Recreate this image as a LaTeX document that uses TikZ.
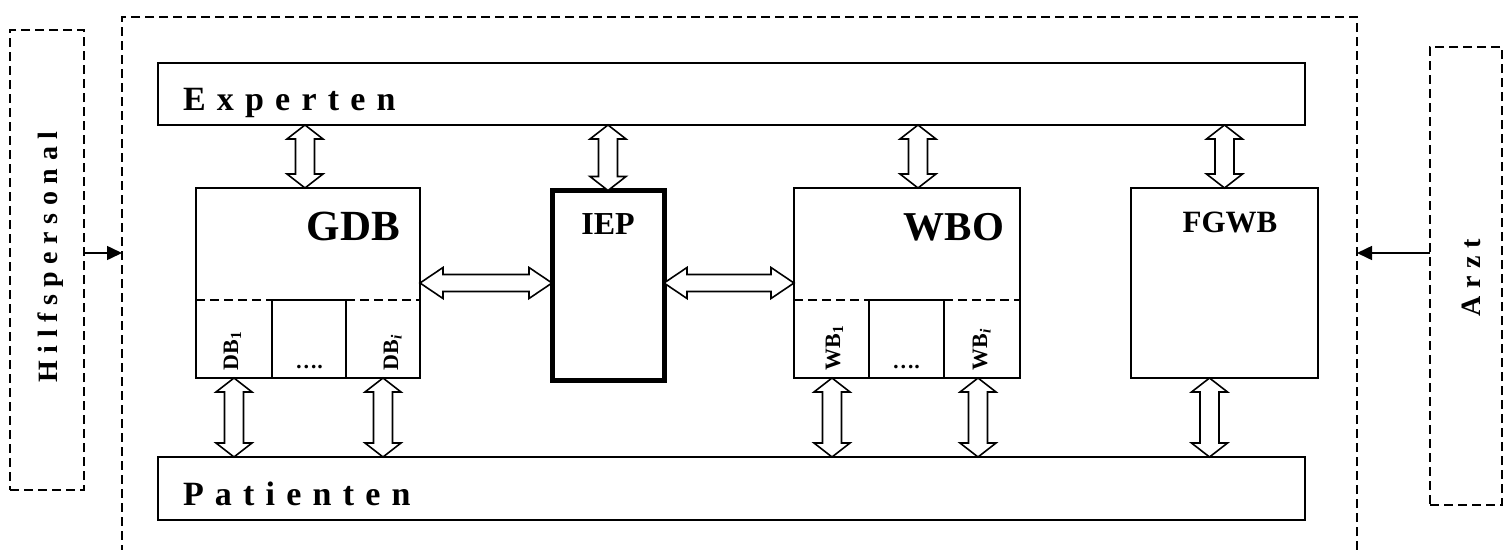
\documentclass[tikz,border=0pt]{standalone}
\usepackage{fontspec}
\setmainfont{Liberation Serif}
\newfontfamily\spacedA[LetterSpace=33]{Liberation Serif}
\newfontfamily\spacedB[LetterSpace=27]{Liberation Serif}
\usetikzlibrary{calc,arrows.meta}
\tikzset{
  box/.style={draw, line width=1.8pt, inner sep=0pt, outer sep=0pt, anchor=north west},
  dbox/.style={draw, line width=1.8pt, dash pattern=on 9pt off 5pt, inner sep=0pt, outer sep=0pt, anchor=north west},
  dline/.style={line width=1.8pt, dash pattern=on 9pt off 5pt},
  hollow/.style={draw, line width=1.6pt, fill=white, line join=miter},
  txt/.style={inner sep=0pt, outer sep=0pt},
  sarrow/.style={line width=1.6pt, -{Triangle[length=15pt,width=14pt]}},
}
% vertical hollow double arrow: [x shift]{x source}{top y source}{bottom y source}
\newcommand\vdarr[4][0pt]{%
  \path[hollow] let \p1=($#2+(#1,0)$), \p2=#3, \p3=#4 in
    (\x1,\y2) -- (\x1+18pt,\y2-14pt) -- (\x1+9.5pt,\y2-14pt) -- (\x1+9.5pt,\y3+14pt)
    -- (\x1+18pt,\y3+14pt) -- (\x1,\y3) -- (\x1-18pt,\y3+14pt) -- (\x1-9.5pt,\y3+14pt)
    -- (\x1-9.5pt,\y2-14pt) -- (\x1-18pt,\y2-14pt) -- cycle;}
% horizontal hollow double arrow: {left x source}{right x source}{y source}
\newcommand\hdarr[3]{%
  \path[hollow] let \p1=#1, \p2=#2, \p3=#3 in
    (\x1,\y3) -- (\x1+23pt,\y3+15.5pt) -- (\x1+23pt,\y3+8.5pt) -- (\x2-23pt,\y3+8.5pt)
    -- (\x2-23pt,\y3+15.5pt) -- (\x2,\y3) -- (\x2-23pt,\y3-15.5pt) -- (\x2-23pt,\y3-8.5pt)
    -- (\x1+23pt,\y3-8.5pt) -- (\x1+23pt,\y3-15.5pt) -- cycle;}
\begin{document}
\begin{tikzpicture}[x=1pt,y=-1pt]
\useasboundingbox (0,0) rectangle (1510,549);
\fill[white] (0,0) rectangle (1510,549);

% outer dashed boxes
\node[dbox, minimum width=1235, minimum height=600] (sys) at (122,17) {};
\node[dbox, minimum width=74, minimum height=460] (hp) at (10,30) {};
\node[dbox, minimum width=72, minimum height=458] (az) at (1430,47) {};

% main boxes
\node[box, minimum width=1147, minimum height=62] (exp) at (158,63) {};
\node[box, minimum width=1147, minimum height=63] (pat) at (158,457) {};
\node[box, minimum width=224, minimum height=190] (gdb) at (196,188) {};
\node[box, minimum width=226, minimum height=190] (wbo) at (794,188) {};
\node[box, minimum width=187, minimum height=190] (fgwb) at (1131,188) {};
\node[box, line width=5pt, minimum width=112, minimum height=190] (iep) at (552,190.5) {};

% inner cells
\draw[dline] (196,300) -- (272,300) (346,300) -- (420,300);
\node[box, minimum width=74, minimum height=78] (gdbc) at (272,300) {};
\draw[dline] (794,300) -- (869,300) (944,300) -- (1020,300);
\node[box, minimum width=75, minimum height=78] (wboc) at (869,300) {};
\coordinate (db1) at (234,378);
\coordinate (dbi) at (383,378);
\coordinate (wb1) at (832,378);
\coordinate (wbi) at (978,378);

% side arrows
\draw[sarrow] ([yshift=7pt]hp.east) -- ([yshift=7pt]hp.east -| sys.west);
\draw[sarrow] ([yshift=23pt]az.west) -- ([yshift=23pt]az.west -| sys.east);

% hollow double arrows, top
\vdarr[-3pt]{(gdb.north)}{(exp.south)}{(gdb.north)}
\vdarr{(iep.north)}{(exp.south)}{(iep.north)}
\vdarr[11pt]{(wbo.north)}{(exp.south)}{(wbo.north)}
\vdarr{(fgwb.north)}{(exp.south)}{(fgwb.north)}
% bottom
\vdarr{(db1)}{(db1)}{(pat.north)}
\vdarr{(dbi)}{(dbi)}{(pat.north)}
\vdarr{(wb1)}{(wb1)}{(pat.north)}
\vdarr{(wbi)}{(wbi)}{(pat.north)}
\vdarr[-15pt]{(fgwb.south)}{(fgwb.south)}{(pat.north)}
% horizontal
\hdarr{(gdb.east)}{(iep.west)}{(gdb.east)}
\hdarr{(iep.east)}{(wbo.west)}{(wbo.west)}

% texts
\node[txt, anchor=base west, font=\spacedA\bfseries\fontsize{34}{40}\selectfont] (expt) at (183,110) {Experten};
\node[txt, anchor=base west, font=\spacedA\bfseries\fontsize{34}{40}\selectfont] (patt) at (183,505) {Patienten};
\node[txt, rotate=90, anchor=base, font=\spacedB\bfseries\fontsize{28}{30}\selectfont] (hpt) at (57,257) {Hilfspersonal};
\node[txt, rotate=90, anchor=base, font=\spacedB\bfseries\fontsize{28}{30}\selectfont] (azt) at (1480,278) {Arzt};
\node[txt, anchor=base east, font=\bfseries\fontsize{43}{47}\selectfont] (gdbt) at (400,240) {GDB};
\node[txt, anchor=base east, font=\bfseries\fontsize{41}{45}\selectfont] (wbot) at (1004,240) {WBO};
\node[txt, anchor=base, font=\bfseries\fontsize{32}{36}\selectfont] (iept) at (608,234) {IEP};
\node[txt, anchor=base, font=\bfseries\fontsize{31}{35}\selectfont] (fgwbt) at (1230,232) {FGWB};
\node[txt, rotate=90, anchor=base west, font=\bfseries\fontsize{22}{24}\selectfont] (db1t) at (238,370) {DB\textsubscript{1}};
\node[txt, rotate=90, anchor=base west, font=\bfseries\fontsize{22}{24}\selectfont] (dbit) at (398,370) {DB\textsubscript{\itshape i}};
\node[txt, rotate=90, anchor=base west, font=\bfseries\fontsize{22}{24}\selectfont] (wb1t) at (840,370) {WB\textsubscript{1}};
\node[txt, rotate=90, anchor=base west, font=\bfseries\fontsize{22}{24}\selectfont] (wbit) at (987,370) {WB\textsubscript{\itshape i}};
\node[txt, anchor=base, font=\bfseries\fontsize{22}{24}\selectfont] (dots1) at (309,368) {….};
\node[txt, anchor=base, font=\bfseries\fontsize{22}{24}\selectfont] (dots2) at (906,368) {….};
\end{tikzpicture}
\end{document}
